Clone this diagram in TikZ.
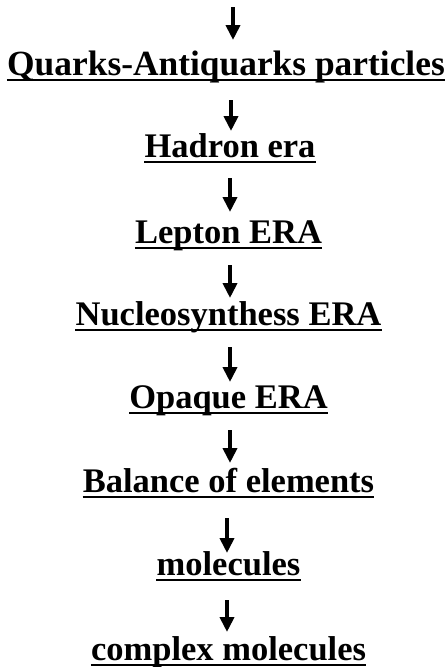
\documentclass[tikz,border=0pt]{standalone}
\usepackage{fontspec}
\setmainfont{Liberation Serif}
\usetikzlibrary{arrows.meta,calc}
\tikzset{
  lbl/.style={font=\fontsize{34.5}{38}\selectfont\bfseries, inner sep=0pt, anchor=base, text=black},
  ul/.style={line width=2pt, black},
  arr/.style={line width=4.2pt, black, -{Triangle[width=14pt,length=15pt]}}
}
\newcommand{\uline}[1]{\draw[ul] ([yshift=-5pt]#1.base west) -- ([yshift=-5pt]#1.base east);}
\begin{document}
\begin{tikzpicture}[x=1pt,y=1pt]
\useasboundingbox[fill=white] (0,0) rectangle (446,-667);
\node[lbl, font=\fontsize{35.4}{38}\selectfont\bfseries] (q) at (226,-75) {Quarks-Antiquarks particles};
\node[lbl] (h) at (230,-157) {Hadron era};
\node[lbl] (l) at (228.5,-243) {Lepton ERA};
\node[lbl] (n) at (228.5,-325) {Nucleosynthess ERA};
\node[lbl] (o) at (228.5,-408) {Opaque ERA};
\node[lbl] (b) at (228.5,-492) {Balance of elements};
\node[lbl] (m) at (228.5,-575) {molecules};
\node[lbl] (c) at (228.5,-660) {complex molecules};
\foreach \k in {q,h,l,n,o,b,m,c} {\uline{\k}}
\coordinate (top) at (233,-7);
\draw[arr] (top) -- ($(q.base)+(7,35)$);
\draw[arr] ($(q.base)+(5,-25)$) -- ($(h.base)+(1,26)$);
\draw[arr] ($(h.base)+(0,-21)$) -- ($(l.base)+(1.5,31)$);
\draw[arr] ($(l.base)+(1.5,-22)$) -- ($(n.base)+(1.5,27)$);
\draw[arr] ($(n.base)+(1.5,-22)$) -- ($(o.base)+(1.5,26)$);
\draw[arr] ($(o.base)+(1.5,-22)$) -- ($(b.base)+(1.5,29)$);
\draw[arr] ($(b.base)+(-1.5,-26)$) -- ($(m.base)+(-1.5,22)$);
\draw[arr] ($(m.base)+(-1.5,-25)$) -- ($(c.base)+(-1.5,28)$);
\end{tikzpicture}
\end{document}
